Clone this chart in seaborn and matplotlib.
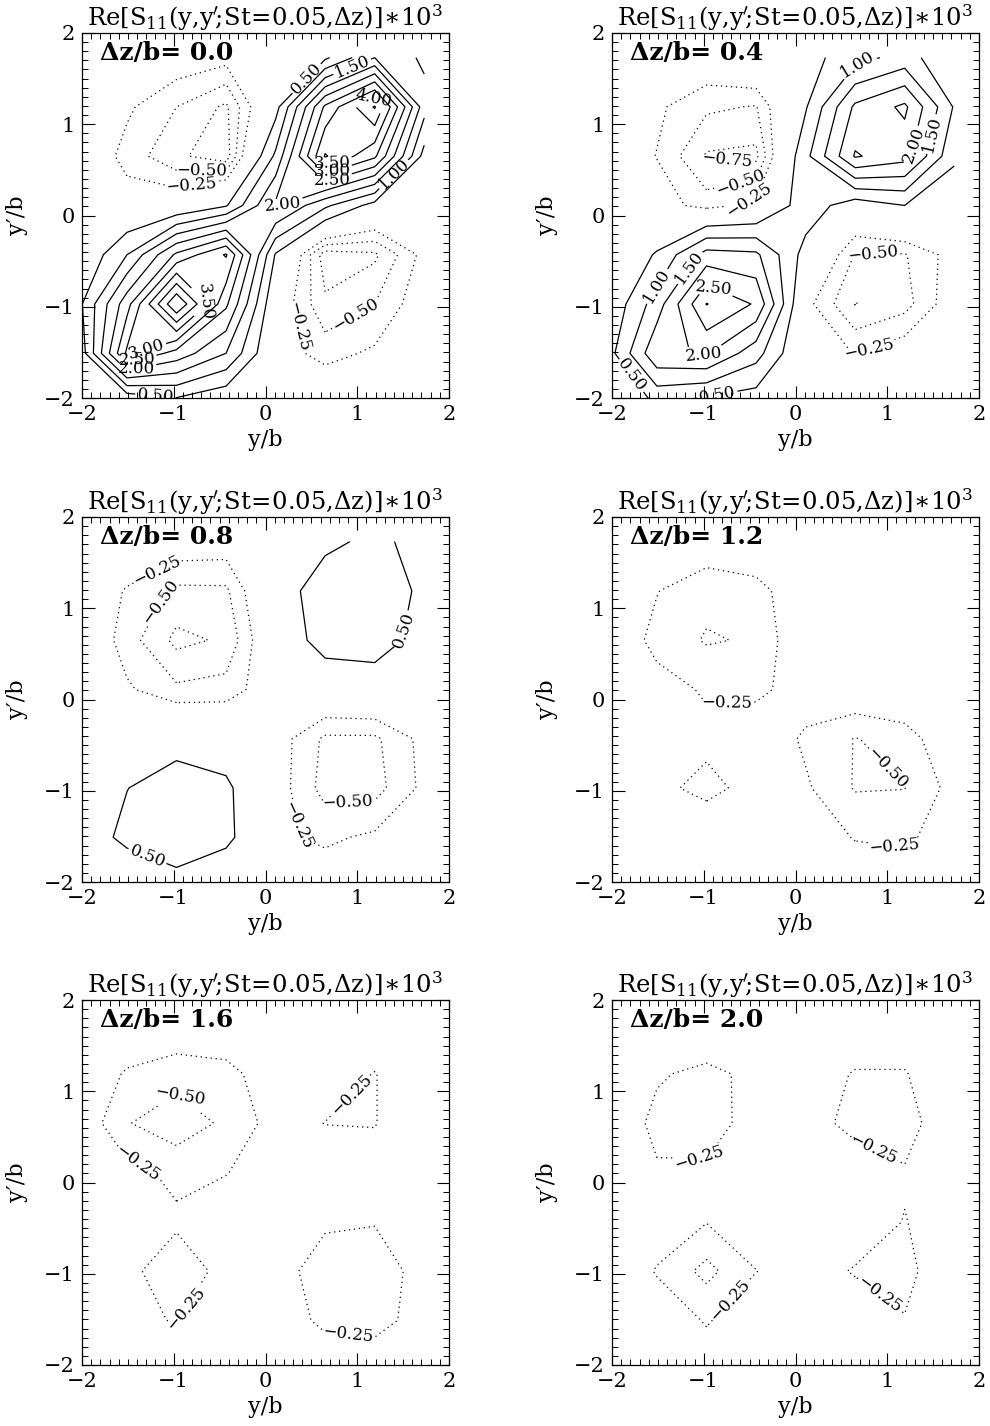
import numpy as np
import matplotlib
matplotlib.use("Agg")
import matplotlib.pyplot as plt
import seaborn as sns
from matplotlib.ticker import MultipleLocator

# Sampling points of the cross-spectral density (same grid in y/b and y'/b)
grid = [-2.05, -1.51, -0.97, -0.43, 0.11, 0.65, 1.19, 1.73]

# Re[S11(y, y'; St=0.05, dz)] * 1e3, rows = y'/b (bottom to top), columns = y/b
s11_dz00 = [
    [-0.10, -0.10, 0.30, 0.00, 0.00, 0.07, 0.00, 0.00],
    [0.00, 3.10, 2.30, 1.50, -0.10, -0.35, -0.20, -0.05],
    [0.30, 2.30, 5.00, 2.60, 0.00, -0.70, -0.50, -0.05],
    [-0.05, 1.00, 2.60, 3.55, 0.45, -0.90, -0.80, -0.15],
    [0.00, -0.10, 0.00, 0.45, 2.10, 1.10, 0.30, 0.10],
    [0.07, -0.35, -0.70, -0.90, 1.10, 4.05, 3.10, 0.30],
    [0.00, -0.20, -0.50, -0.80, 0.30, 3.10, 4.55, 1.20],
    [0.00, -0.05, -0.05, -0.15, 0.00, 0.40, 1.50, 0.90],
]
s11_dz04 = [
    [0.10, 0.55, 0.30, 0.20, 0.05, -0.05, 0.00, 0.00],
    [0.25, 1.90, 2.05, 1.20, -0.10, -0.26, -0.06, 0.00],
    [0.05, 1.25, 3.02, 2.44, -0.15, -0.76, -0.60, -0.05],
    [0.00, 0.55, 1.70, 1.60, 0.30, -0.52, -0.52, -0.12],
    [0.00, -0.10, -0.37, -0.15, 0.80, 0.20, 0.50, 0.10],
    [0.00, -0.26, -0.78, -0.82, 0.85, 2.55, 2.20, 0.60],
    [-0.05, -0.20, -0.45, -0.52, 0.45, 2.10, 2.60, 0.95],
    [0.00, -0.05, 0.00, 0.20, 0.30, 0.80, 1.20, 0.60],
]
s11_dz08 = [
    [0.00, 0.07, 0.31, -0.03, 0.00, -0.07, -0.05, 0.00],
    [0.19, 0.62, 0.80, 0.65, -0.20, -0.30, -0.20, -0.10],
    [0.10, 0.49, 0.75, 0.60, -0.10, -0.60, -0.60, -0.18],
    [0.00, 0.10, 0.30, 0.20, -0.10, -0.55, -0.55, -0.16],
    [0.00, -0.21, -0.45, -0.40, -0.03, 0.15, 0.20, 0.10],
    [0.10, -0.38, -0.82, -0.71, 0.15, 0.70, 0.75, 0.30],
    [-0.05, -0.27, -0.56, -0.55, 0.25, 0.75, 0.80, 0.40],
    [0.00, -0.05, -0.05, -0.08, 0.10, 0.40, 0.60, 0.35],
]
s11_dz12 = [
    [0.00, 0.00, 0.00, 0.00, 0.00, 0.00, 0.00, 0.00],
    [0.00, -0.05, -0.03, -0.05, -0.05, -0.27, -0.32, -0.05],
    [0.00, -0.18, -0.33, -0.15, -0.21, -0.52, -0.505, -0.15],
    [0.00, -0.10, -0.18, -0.01, -0.30, -0.51, -0.40, 0.03],
    [-0.05, -0.15, -0.28, -0.33, -0.09, 0.00, 0.08, 0.05],
    [-0.02, -0.33, -0.525, -0.47, 0.03, 0.10, 0.10, 0.05],
    [-0.10, -0.24, -0.42, -0.35, -0.03, 0.00, 0.05, 0.00],
    [-0.05, -0.10, -0.06, 0.00, 0.00, 0.00, 0.00, 0.00],
]
s11_dz16 = [
    [0.00, 0.00, -0.10, 0.00, 0.00, 0.00, 0.00, 0.00],
    [0.00, -0.21, -0.26, -0.10, -0.05, -0.33, -0.38, -0.10],
    [0.00, -0.17, -0.43, -0.15, -0.135, -0.38, -0.40, -0.14],
    [0.00, -0.10, -0.20, -0.10, -0.05, -0.21, -0.235, -0.10],
    [-0.05, -0.16, -0.32, -0.26, -0.10, -0.10, -0.15, -0.05],
    [-0.02, -0.485, -0.65, -0.45, -0.14, -0.255, -0.26, -0.05],
    [-0.10, -0.27, -0.40, -0.35, -0.06, -0.10, -0.26, -0.05],
    [-0.05, -0.10, -0.03, 0.00, 0.00, 0.00, -0.05, 0.00],
]
s11_dz20 = [
    [0.00, 0.00, -0.12, 0.00, 0.00, 0.00, 0.00, 0.00],
    [0.00, -0.10, -0.27, -0.10, -0.05, -0.10, -0.23, 0.00],
    [0.00, -0.27, -0.58, -0.255, -0.14, -0.27, -0.38, 0.10],
    [-0.05, -0.10, -0.24, -0.10, -0.05, -0.10, -0.26, -0.10],
    [-0.05, -0.22, -0.19, -0.10, -0.05, 0.00, -0.22, -0.05],
    [-0.03, -0.32, -0.40, -0.11, -0.07, -0.38, -0.40, 0.03],
    [-0.05, -0.22, -0.32, -0.18, -0.11, -0.27, -0.27, 0.00],
    [0.00, -0.05, 0.00, -0.05, -0.05, -0.05, -0.05, 0.00],
]

separations = ["0.0", "0.4", "0.8", "1.2", "1.6", "2.0"]
fields = [s11_dz00, s11_dz04, s11_dz08, s11_dz12, s11_dz16, s11_dz20]

levels_neg = [-1.0, -0.75, -0.5, -0.25]
levels_pos = [0.5, 1.0, 1.5, 2.0, 2.5, 3.0, 3.5, 4.0, 4.5]

# Where the contour values are written, one list per panel (y/b, y'/b)
label_spots = [
    [(0.45, 1.5), (0.95, 1.62), (1.17, 1.3), (0.72, 0.6), (0.72, 0.51),
     (0.72, 0.42), (0.2, 0.1), (1.4, 0.45), (-0.7, 0.48), (-0.8, 0.25),
     (0.9, -0.95), (0.45, -1.2), (-0.65, -0.95), (-1.3, -1.45),
     (-1.4, -1.6), (-1.4, -1.72), (-1.2, -1.98)],
    [(0.7, 1.58), (1.15, 0.8), (1.45, 0.9), (-0.75, 0.62), (-0.6, 0.36),
     (-0.5, 0.16), (-1.55, -0.75), (-1.18, -0.55), (-0.9, -0.82),
     (-1.0, -1.53), (-1.85, -1.8), (-0.85, -1.97), (0.85, -0.4),
     (0.8, -1.45)],
    [(-1.2, 1.45), (-1.1, 1.05), (1.4, 0.78), (-1.3, -1.75), (0.9, -1.25),
     (0.5, -1.35)],
    [(-0.75, -0.03), (0.95, -0.8), (1.1, -1.45)],
    [(-0.97, 0.9), (-1.45, 0.1), (0.95, 0.95), (-1.0, -1.3), (0.9, -1.62)],
    [(-1.05, 0.3), (0.85, 0.38), (-0.7, -1.3), (0.9, -1.25)],
]

sns.set_style("ticks")
plt.rcParams.update({
    "font.family": ["DejaVu Serif"],
    "mathtext.fontset": "dejavuserif",
    "text.color": "black",
    "axes.labelcolor": "black",
    "axes.titlecolor": "black",
    "axes.linewidth": 0.9,
    "axes.edgecolor": "black",
    "xtick.direction": "in",
    "ytick.direction": "in",
    "xtick.top": True,
    "ytick.right": True,
    "xtick.color": "black",
    "ytick.color": "black",
    "xtick.labelcolor": "black",
    "ytick.labelcolor": "black",
})


def fmt(v):
    return f"{v:.2f}".replace("-", "\u2212")


title = (r"$\mathrm{Re}\left[\mathrm{S}_{11}(\mathrm{y{,}y}^{\prime}\!;\!"
         r"\mathrm{St}\!=\!0.05{,}\Delta\mathrm{z})\right]\!\ast\!10^{3}$")

fig = plt.figure(figsize=(9.9, 14.26), dpi=100)
lefts = [82 / 990, 612 / 990]
bottoms = [1 - 398 / 1426, 1 - 882 / 1426, 1 - 1365 / 1426]
width, height = 367 / 990, 365 / 1426

for k, (dz, field, spots) in enumerate(zip(separations, fields, label_spots)):
    row, col = divmod(k, 2)
    ax = fig.add_axes([lefts[col], bottoms[row], width, height])
    z = np.array(field)

    neg = [lv for lv in levels_neg if z.min() < lv]
    pos = [lv for lv in levels_pos if z.max() > lv]
    styles = [(0, (1, 3))] * len(neg) + ["solid"] * len(pos)
    cs = ax.contour(grid, grid, z, levels=neg + pos, colors="black",
                    linewidths=0.9, linestyles=styles)
    ax.clabel(cs, inline=True, fontsize=12, fmt=fmt, inline_spacing=3,
              manual=spots)

    ax.set_xlim(-2, 2)
    ax.set_ylim(-2, 2)
    ax.set_xticks([-2, -1, 0, 1, 2])
    ax.set_yticks([-2, -1, 0, 1, 2])
    ax.set_xticklabels(["\u22122", "\u22121", "0", "1", "2"])
    ax.set_yticklabels(["\u22122", "\u22121", "0", "1", "2"])
    ax.xaxis.set_minor_locator(MultipleLocator(0.1))
    ax.yaxis.set_minor_locator(MultipleLocator(0.1))
    ax.tick_params(which="major", length=9, width=0.8, labelsize=15, pad=5)
    ax.tick_params(which="minor", length=4.5, width=0.7)

    ax.set_xlabel("y/b", fontsize=16)
    ax.set_ylabel("y\u2032/b", fontsize=16)
    ax.xaxis.set_label_coords(0.5, -0.085)
    ax.yaxis.set_label_coords(-0.148, 0.5)
    ax.set_title(title, fontsize=17.5, pad=4)
    ax.text(0.05, 0.945, f"\u0394z/b= {dz}", transform=ax.transAxes,
            fontsize=18, fontweight="bold", va="center", ha="left")

fig.savefig("out.png", dpi=100)
